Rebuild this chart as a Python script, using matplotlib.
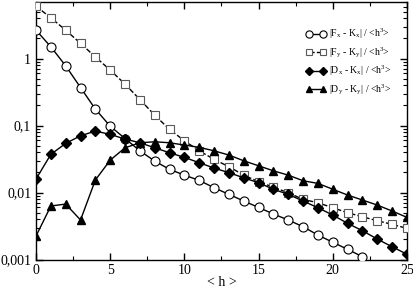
import numpy as np
import matplotlib.pyplot as plt
from matplotlib.ticker import FixedLocator, LogLocator, NullFormatter, MultipleLocator

plt.rcParams["font.family"] = ["Liberation Serif", "DejaVu Serif"]
plt.rcParams["mathtext.fontset"] = "custom"
plt.rcParams["mathtext.rm"] = "Liberation Serif"
plt.rcParams["mathtext.it"] = "Liberation Serif"

# ---- data ----
h_fx = np.arange(0, 23)
fx = [2.66, 1.5, 0.78, 0.37, 0.176, 0.098, 0.064, 0.042, 0.0295, 0.0222,
      0.0182, 0.0152, 0.0118, 0.0094, 0.00747, 0.0060, 0.00478, 0.00389,
      0.00309, 0.00232, 0.00181, 0.00142, 0.0011]

h_all = np.arange(0, 26)
fy = [6.08, 4.06, 2.66, 1.69, 1.06, 0.674, 0.416, 0.245, 0.143, 0.0877,
      0.0593, 0.042, 0.0313, 0.0243, 0.0182, 0.0145, 0.012, 0.00993,
      0.0079, 0.00705, 0.00593, 0.0050, 0.00435, 0.00379, 0.00335, 0.00292]

dx = [0.0159, 0.0372, 0.0542, 0.0704, 0.0828, 0.0739, 0.0629, 0.0554,
      0.0466, 0.0393, 0.0335, 0.0279, 0.0232, 0.0198, 0.0166, 0.014,
      0.0112, 0.0094, 0.00747, 0.00593, 0.00461, 0.00347, 0.00269,
      0.00202, 0.00155, 0.0012]

dy = [0.00224, 0.0063, 0.00673, 0.00389, 0.0154, 0.0305, 0.0466, 0.0554,
      0.0573, 0.0554, 0.0512, 0.0473, 0.042, 0.0363, 0.0298, 0.0251,
      0.0211, 0.0182, 0.015, 0.0137, 0.0112, 0.00918, 0.00773, 0.0065,
      0.0053, 0.00426]

labels = [r"$|\mathrm{F}_\mathrm{x}$ - $\mathrm{K}_\mathrm{x}|$ / <h$^3$>",
          r"$|\mathrm{F}_\mathrm{y}$ - $\mathrm{K}_\mathrm{y}|$ / <h$^3$>",
          r"$|\mathrm{D}_\mathrm{x}$ - $\mathrm{K}_\mathrm{x}|$ / <h$^3$>",
          r"$|\mathrm{D}_\mathrm{y}$ - $\mathrm{K}_\mathrm{y}|$ / <h$^3$>"]

yticks = [0.001, 0.01, 0.1, 1]
yticklabels = ["0,001", "0,01", "0,1", "1"]

# ---- plot ----
fig = plt.figure(figsize=(4.14, 2.89), dpi=100)
ax = fig.add_axes([0.087, 0.102, 0.896, 0.891])

ax.plot(h_fx, fx, "-", color="black", lw=1.0, marker="o", ms=6.5,
        mfc="white", mec="black", mew=0.8, label=labels[0], zorder=3)
ax.plot(h_all, fy, "--", color="black", lw=1.0, marker="s", ms=5.5,
        mfc="white", mec="0.35", mew=0.8, label=labels[1], zorder=3)
ax.plot(h_all, dx, "-", color="black", lw=1.0, marker="D", ms=5,
        mfc="black", mec="black", label=labels[2], zorder=4)
ax.plot(h_all, dy, "-", color="black", lw=1.0, marker="^", ms=6,
        mfc="black", mec="black", label=labels[3], zorder=4)

ax.set_yscale("log")
ax.set_xlim(0, 25)
ax.set_ylim(0.001, 7)

ax.xaxis.set_major_locator(MultipleLocator(5))
ax.xaxis.set_minor_locator(MultipleLocator(2.5))
ax.yaxis.set_major_locator(FixedLocator(yticks))
ax.set_yticklabels(yticklabels)
ax.yaxis.set_minor_locator(LogLocator(base=10, subs=np.arange(2, 10)))
ax.yaxis.set_minor_formatter(NullFormatter())

ax.tick_params(which="both", direction="in", top=True, right=True,
               labelsize=10)
ax.tick_params(which="major", length=5, width=1)
ax.tick_params(which="minor", length=3, width=0.8)
for s in ax.spines.values():
    s.set_linewidth(1.0)

ax.set_xlabel("< h >", fontsize=10, labelpad=-1)

ax.legend(loc="upper right", bbox_to_anchor=(0.975, 0.93), frameon=False,
          fontsize=7, numpoints=2, handlelength=2.0, handletextpad=0.3,
          labelspacing=0.42, markerscale=0.8, borderpad=0.2)

fig.savefig("out.png", dpi=100)
